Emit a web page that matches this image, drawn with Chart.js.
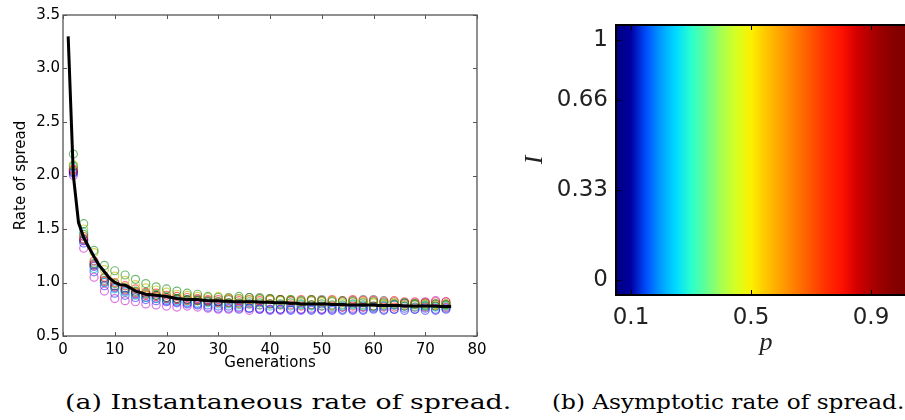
<!DOCTYPE html>
<html>
<head>
<meta charset="utf-8">
<script src="https://cdn.jsdelivr.net/npm/chart.js@4.4.0/dist/chart.umd.min.js"></script>
<style>
html, body { margin: 0; padding: 0; background: #fff; overflow: hidden; width: 905px; height: 420px; }
#graficoA { position: absolute; left: 0; top: 0; }
#graficoB { position: absolute; left: 520px; top: 0; }
.legenda { position: absolute; top: 390px; font-family: "DejaVu Serif", serif; font-size: 20px; line-height: 24px; color: #000; white-space: nowrap; transform-origin: 0 0; }
</style>
</head>
<body>
<canvas id="graficoA" width="520" height="380"></canvas>
<canvas id="graficoB" width="400" height="380"></canvas>
<div class="legenda" style="left:65px; transform:scaleX(1.34)">(a) Instantaneous rate of spread.</div>
<div class="legenda" style="left:552px; transform:scaleX(1.16)">(b) Asymptotic rate of spread.</div>
<script>
// (a) mean rate of spread, generations 1..75
var meanRate = [3.30, 2.00, 1.56, 1.42, 1.33, 1.24, 1.16, 1.10, 1.04, 1.00,
    0.98, 0.975, 0.95, 0.92, 0.905, 0.89, 0.885, 0.88, 0.875, 0.87,
    0.86, 0.85, 0.845, 0.84, 0.84, 0.84, 0.835, 0.83, 0.83, 0.83,
    0.825, 0.825, 0.82, 0.82, 0.82, 0.82, 0.82, 0.815, 0.815, 0.815,
    0.81, 0.81, 0.81, 0.805, 0.805, 0.80, 0.80, 0.80, 0.80, 0.80,
    0.80, 0.795, 0.795, 0.795, 0.79, 0.79, 0.79, 0.79, 0.79, 0.79,
    0.785, 0.785, 0.785, 0.785, 0.785, 0.78, 0.78, 0.78, 0.78, 0.78,
    0.78, 0.78, 0.775, 0.775, 0.775];

// individual runs, sampled every 2 generations
var runGenerations = [2, 4, 6, 8, 10, 12, 14, 16, 18, 20, 22, 24, 26, 28, 30, 32, 34, 36, 38,
    40, 42, 44, 46, 48, 50, 52, 54, 56, 58, 60, 62, 64, 66, 68, 70, 72, 74];
var runGreen = [2.20, 1.55, 1.30, 1.16, 1.11, 1.07, 1.03, 0.99, 0.96, 0.94, 0.92, 0.90, 0.89,
    0.87, 0.86, 0.86, 0.87, 0.86, 0.85, 0.85, 0.84, 0.84, 0.83, 0.84, 0.83, 0.82, 0.83, 0.82, 0.81, 0.82, 0.81, 0.80, 0.81, 0.80, 0.79, 0.80, 0.79];
var runYellow = [2.10, 1.50, 1.28, 1.12, 1.06, 1.02, 0.98, 0.95, 0.93, 0.91, 0.89, 0.88, 0.87,
    0.86, 0.87, 0.85, 0.85, 0.84, 0.85, 0.84, 0.83, 0.84, 0.82, 0.83, 0.82, 0.83, 0.81, 0.82, 0.82, 0.81, 0.80, 0.81, 0.79, 0.80, 0.80, 0.79, 0.80];
var runRed = [2.06, 1.43, 1.20, 1.05, 1.00, 0.97, 0.94, 0.91, 0.90, 0.88, 0.87, 0.86, 0.85,
    0.84, 0.84, 0.85, 0.83, 0.84, 0.83, 0.84, 0.84, 0.83, 0.84, 0.84, 0.83, 0.84, 0.83, 0.84, 0.83, 0.83, 0.82, 0.83, 0.82, 0.82, 0.81, 0.82, 0.82];
var runBlack = [2.04, 1.40, 1.17, 1.02, 0.97, 0.94, 0.91, 0.89, 0.88, 0.86, 0.85, 0.84, 0.84,
    0.83, 0.82, 0.84, 0.85, 0.86, 0.86, 0.85, 0.84, 0.83, 0.82, 0.83, 0.84, 0.83, 0.82, 0.83, 0.84, 0.84, 0.83, 0.82, 0.81, 0.80, 0.81, 0.80, 0.80];
var runCyan = [2.08, 1.47, 1.13, 1.00, 0.94, 0.91, 0.88, 0.86, 0.85, 0.84, 0.83, 0.82, 0.81,
    0.81, 0.80, 0.80, 0.79, 0.80, 0.79, 0.78, 0.79, 0.78, 0.79, 0.78, 0.78, 0.77, 0.78, 0.79, 0.78, 0.77, 0.78, 0.79, 0.78, 0.77, 0.78, 0.77, 0.78];
var runBlue = [2.02, 1.37, 1.10, 0.97, 0.90, 0.88, 0.86, 0.84, 0.83, 0.82, 0.81, 0.80, 0.79,
    0.77, 0.76, 0.76, 0.75, 0.76, 0.75, 0.74, 0.75, 0.75, 0.74, 0.75, 0.74, 0.75, 0.75, 0.74, 0.75, 0.76, 0.75, 0.75, 0.76, 0.75, 0.76, 0.75, 0.76];
var runMagenta = [2.00, 1.32, 1.05, 0.92, 0.85, 0.83, 0.82, 0.80, 0.79, 0.78, 0.77, 0.78, 0.77,
    0.76, 0.75, 0.75, 0.76, 0.74, 0.75, 0.75, 0.74, 0.76, 0.75, 0.76, 0.75, 0.76, 0.77, 0.76, 0.77, 0.77, 0.78, 0.79, 0.80, 0.81, 0.82, 0.83, 0.82];
var runBlue2 = [2.03, 1.39, 1.15, 1.00, 0.95, 0.92, 0.89, 0.86, 0.85, 0.83, 0.82, 0.81, 0.80,
    0.79, 0.78, 0.78, 0.77, 0.76, 0.76, 0.75, 0.75, 0.74, 0.75, 0.74, 0.75, 0.74, 0.74, 0.75, 0.74, 0.75, 0.74, 0.75, 0.74, 0.75, 0.74, 0.74, 0.75];
var runGreen2 = [2.09, 1.45, 1.18, 1.04, 0.99, 0.95, 0.92, 0.90, 0.88, 0.86, 0.85, 0.84, 0.83,
    0.82, 0.82, 0.81, 0.81, 0.82, 0.81, 0.80, 0.80, 0.81, 0.80, 0.79, 0.80, 0.79, 0.79, 0.80, 0.79, 0.78, 0.79, 0.79, 0.78, 0.79, 0.78, 0.78, 0.79];
var runRed2 = [2.05, 1.41, 1.16, 1.01, 0.96, 0.93, 0.90, 0.88, 0.87, 0.85, 0.84, 0.83, 0.83,
    0.82, 0.81, 0.81, 0.80, 0.80, 0.79, 0.80, 0.79, 0.79, 0.78, 0.79, 0.78, 0.78, 0.77, 0.78, 0.77, 0.78, 0.77, 0.77, 0.78, 0.77, 0.77, 0.78, 0.77];

// (b) asymptotic rate (normalised) against p, same for every I row
var pLevels = [0.05, 0.10, 0.15, 0.20, 0.25, 0.30, 0.35, 0.40, 0.45, 0.50,
    0.55, 0.60, 0.65, 0.70, 0.75, 0.80, 0.85, 0.90, 0.95, 1.00];
var rateByP = [0.00, 0.03, 0.20, 0.28, 0.34, 0.40, 0.47, 0.55, 0.61, 0.655,
    0.70, 0.74, 0.78, 0.82, 0.86, 0.89, 0.925, 0.96, 0.985, 1.00];
// image rows (index), the I labels sit on rows 0, 3, 6 and 8
var iRows = [0, 1, 2, 3, 4, 5, 6, 7, 8];
var iTickRows = [0, 3, 6, 8];
var iTickLabels = ['0', '0.33', '0.66', '1'];
var pTicks = [0.1, 0.5, 0.9];

var runs = [runGreen, runYellow, runRed, runBlack, runCyan, runBlue, runMagenta, runBlue2, runGreen2, runRed2];
var runColors = ['rgba(0,128,0,0.55)', 'rgba(191,191,0,0.65)', 'rgba(255,0,0,0.55)', 'rgba(0,0,0,0.4)',
    'rgba(0,191,191,0.6)', 'rgba(0,0,255,0.5)', 'rgba(191,0,191,0.55)', 'rgba(0,0,255,0.5)',
    'rgba(0,128,0,0.55)', 'rgba(255,0,0,0.55)'];

function jet(v) {
    function seg(pts) {
        for (var k = 1; k < pts.length; k++) {
            if (v <= pts[k][0]) {
                var t = (v - pts[k - 1][0]) / (pts[k][0] - pts[k - 1][0]);
                return pts[k - 1][1] + t * (pts[k][1] - pts[k - 1][1]);
            }
        }
        return pts[pts.length - 1][1];
    }
    var r = seg([[0, 0], [0.35, 0], [0.66, 1], [0.89, 1], [1, 0.5]]);
    var g = seg([[0, 0], [0.125, 0], [0.375, 1], [0.64, 1], [0.91, 0], [1, 0]]);
    var b = seg([[0, 0.5], [0.11, 1], [0.34, 1], [0.65, 0], [1, 0]]);
    return 'rgb(' + Math.round(r * 255) + ',' + Math.round(g * 255) + ',' + Math.round(b * 255) + ')';
}

// box round the plot with ticks pointing inwards, matplotlib style
var moldura = {
    id: 'moldura',
    afterDatasetsDraw: function (chart, args, opts) {
        var a = chart.chartArea, ctx = chart.ctx;
        var sx = chart.scales.x, sy = chart.scales.y;
        ctx.save();
        ctx.strokeStyle = opts.color;
        ctx.lineWidth = opts.width;
        ctx.strokeRect(a.left, a.top, a.right - a.left, a.bottom - a.top);
        ctx.beginPath();
        sx.ticks.forEach(function (t) {
            var px = Math.round(sx.getPixelForValue(t.value)) + 0.5;
            ctx.moveTo(px, a.bottom); ctx.lineTo(px, a.bottom - opts.len);
            ctx.moveTo(px, a.top); ctx.lineTo(px, a.top + opts.len);
        });
        sy.ticks.forEach(function (t) {
            var py = Math.round(sy.getPixelForValue(t.value)) + 0.5;
            ctx.moveTo(a.left, py); ctx.lineTo(a.left + opts.len, py);
            ctx.moveTo(a.right, py); ctx.lineTo(a.right - opts.len, py);
        });
        ctx.lineWidth = 1;
        ctx.stroke();
        ctx.restore();
    }
};

// smooth image of the cells, one gradient strip per row
var mapaCalor = {
    id: 'mapaCalor',
    beforeDatasetsDraw: function (chart) {
        var sx = chart.scales.x, sy = chart.scales.y, ctx = chart.ctx, a = chart.chartArea;
        var cells = chart.data.datasets[0].data;
        var left = sx.getPixelForValue(sx.min), right = sx.getPixelForValue(sx.max);
        ctx.save();
        ctx.beginPath();
        ctx.rect(a.left, a.top, a.right - a.left, a.bottom - a.top);
        ctx.clip();
        iRows.forEach(function (row) {
            var grad = ctx.createLinearGradient(left, 0, right, 0);
            cells.filter(function (c) { return c.y === row; }).forEach(function (c) {
                grad.addColorStop((sx.getPixelForValue(c.x) - left) / (right - left), jet(c.v));
            });
            var top = Math.floor(sy.getPixelForValue(row + 0.5));
            var bot = Math.ceil(sy.getPixelForValue(row - 0.5));
            ctx.fillStyle = grad;
            ctx.fillRect(left, top, right - left, bot - top + 1);
        });
        ctx.restore();
    }
};

function gerarGraficoA() {
    var ctx = document.getElementById('graficoA').getContext('2d');
    var datasets = [{
        label: 'mean',
        data: meanRate.map(function (v, i) { return { x: i + 1, y: v }; }),
        showLine: true,
        borderColor: '#000',
        borderWidth: 3,
        pointRadius: 0,
        tension: 0
    }];
    runs.forEach(function (run, k) {
        datasets.push({
            label: 'run ' + (k + 1),
            data: runGenerations.map(function (g, i) { return { x: g, y: run[i] }; }),
            showLine: false,
            pointRadius: 4,
            pointBorderWidth: 1.2,
            borderColor: runColors[k],
            backgroundColor: 'transparent'
        });
    });
    var fonte = { family: 'DejaVu Sans', size: 15 };
    new Chart(ctx, {
        type: 'scatter',
        data: { datasets: datasets },
        plugins: [moldura],
        options: {
            responsive: false,
            animation: false,
            devicePixelRatio: 1,
            layout: { padding: { left: 0, top: 15, right: 43, bottom: 0 } },
            plugins: {
                legend: { display: false },
                tooltip: { enabled: false },
                moldura: { color: '#555', width: 1.3, len: 4 }
            },
            scales: {
                x: {
                    type: 'linear', min: 0, max: 80,
                    grid: { display: false, drawTicks: false }, border: { display: false },
                    ticks: { stepSize: 10, color: '#000', font: fonte, padding: 5, maxRotation: 0 },
                    title: { display: true, text: 'Generations', color: '#000', font: fonte, padding: { top: 0, bottom: 8 } },
                    afterFit: function (s) { s.height = 44; }
                },
                y: {
                    type: 'linear', min: 0.5, max: 3.5,
                    grid: { display: false, drawTicks: false }, border: { display: false },
                    ticks: { stepSize: 0.5, color: '#000', font: fonte, padding: 3,
                        callback: function (v) { return v.toFixed(1); } },
                    title: { display: true, text: 'Rate of spread', color: '#000', font: fonte, padding: { top: 12, bottom: 0 } },
                    afterFit: function (s) { s.width = 63; }
                }
            }
        }
    });
}

function gerarGraficoB() {
    var ctx = document.getElementById('graficoB').getContext('2d');
    var cells = [];
    iRows.forEach(function (row) {
        pLevels.forEach(function (p, j) { cells.push({ x: p, y: row, v: rateByP[j] }); });
    });
    var fonteTicks = { family: 'DejaVu Sans', size: 23 };
    var fonteTitulo = { family: 'Liberation Serif', size: 26, style: 'italic' };
    new Chart(ctx, {
        type: 'scatter',
        data: { datasets: [{ label: 'rate', data: cells, pointRadius: 0, showLine: false }] },
        plugins: [mapaCalor, moldura],
        options: {
            responsive: false,
            animation: false,
            devicePixelRatio: 1,
            layout: { padding: { left: 0, top: 25, right: 4, bottom: 0 } },
            plugins: {
                legend: { display: false },
                tooltip: { enabled: false },
                moldura: { color: '#000', width: 2, len: 5 }
            },
            scales: {
                x: {
                    type: 'linear', min: 0.05, max: 1.05,
                    grid: { display: false, drawTicks: false }, border: { display: false },
                    afterBuildTicks: function (s) { s.ticks = pTicks.map(function (v) { return { value: v }; }); },
                    ticks: { color: '#222', font: fonteTicks, padding: 9, maxRotation: 0, autoSkip: false,
                        callback: function (v) { return String(v); } },
                    title: { display: true, text: 'p', color: '#222', font: fonteTitulo, padding: { top: 0, bottom: 21 } },
                    afterFit: function (s) { s.height = 85; }
                },
                y: {
                    type: 'linear', min: -0.5, max: 8.5,
                    grid: { display: false, drawTicks: false }, border: { display: false },
                    afterBuildTicks: function (s) { s.ticks = iTickRows.map(function (v) { return { value: v }; }); },
                    ticks: { color: '#222', font: fonteTicks, padding: 8, autoSkip: false,
                        callback: function (v, i) { return iTickLabels[i]; } },
                    title: { display: true, text: 'I', color: '#222', font: fonteTitulo, padding: { top: 0, bottom: 0 } },
                    afterFit: function (s) { s.width = 96; }
                }
            }
        }
    });
}

gerarGraficoA();
gerarGraficoB();
</script>
</body>
</html>
